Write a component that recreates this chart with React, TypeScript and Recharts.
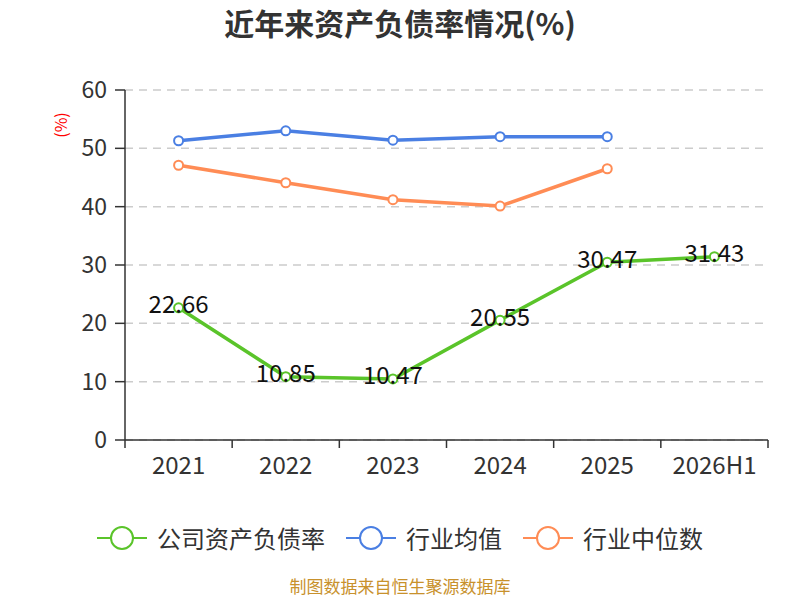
import { CartesianGrid, Line, LineChart, XAxis, YAxis, LabelList } from 'recharts'

const years = ['2021', '2022', '2023', '2024', '2025', '2026H1']
const companyRatio = [22.66, 10.85, 10.47, 20.55, 30.47, 31.43]
const industryAvg = [51.3, 53.0, 51.4, 52.0, 52.0, null]
const industryMedian = [47.1, 44.1, 41.2, 40.1, 46.5, null]
const yTicks = [0, 10, 20, 30, 40, 50, 60]

const data = years.map((year, i) => ({
  year,
  company: companyRatio[i],
  avg: industryAvg[i],
  median: industryMedian[i],
}))

const FONT = '"Noto Sans CJK SC", "Noto Sans", sans-serif'
const GREEN = '#5ac42a'
const BLUE = '#4a7fe3'
const ORANGE = '#ff8c55'

const PLOT_LEFT = 125
const PLOT_RIGHT = 768
const bandWidth = (PLOT_RIGHT - PLOT_LEFT) / years.length

function XTick(props: any) {
  const { x, y, payload, index } = props
  const left = x - bandWidth / 2
  return (
    <g>
      <line x1={left} x2={left} y1={y - 8} y2={y} stroke="#333" strokeWidth={1.5} />
      {index === years.length - 1 && (
        <line x1={x + bandWidth / 2} x2={x + bandWidth / 2} y1={y - 8} y2={y} stroke="#333" strokeWidth={1.5} />
      )}
      <text x={x} y={y + 26} textAnchor="middle" fill="#333" fontSize={24} fontFamily={FONT}>
        {payload.value}
      </text>
    </g>
  )
}

function ValueLabel(props: any) {
  const { x, y, value } = props
  return (
    <text x={x} y={y} dy={-1} textAnchor="middle" dominantBaseline="middle" fill="#111" fontSize={24} fontFamily={FONT}>
      {value}
    </text>
  )
}

const legendItems = [
  { name: '公司资产负债率', color: GREEN },
  { name: '行业均值', color: BLUE },
  { name: '行业中位数', color: ORANGE },
]

export default function App() {
  return (
    <div style={{ position: 'absolute', left: 0, top: 0, width: 800, height: 600, background: '#fff', fontFamily: FONT, overflow: 'hidden' }}>
      <div style={{ position: 'absolute', top: 7, width: 800, textAlign: 'center', fontSize: 30, lineHeight: '30px', fontWeight: 'bold', color: '#333' }}>
        近年来资产负债率情况(%)
      </div>
      <LineChart width={800} height={600} data={data} margin={{ top: 90, right: 800 - PLOT_RIGHT, left: 0, bottom: 120 }}>
        <CartesianGrid vertical={false} stroke="#ccc" strokeDasharray="8 6" strokeWidth={1.5} />
        <XAxis
          dataKey="year"
          scale="band"
          height={40}
          axisLine={{ stroke: '#333', strokeWidth: 1.5 }}
          tickLine={false}
          tick={<XTick />}
          interval={0}
        />
        <YAxis
          width={PLOT_LEFT}
          domain={[0, 60]}
          ticks={yTicks}
          interval={0}
          axisLine={{ stroke: '#333', strokeWidth: 1.5 }}
          tickLine={{ stroke: '#333', strokeWidth: 1.5 }}
          tickSize={10}
          tickMargin={8}
          tick={{ fill: '#333', fontSize: 23, fontFamily: FONT }}
          label={{
            content: () => (
              <text
                x={63}
                y={125}
                transform="rotate(-90 63 125)"
                textAnchor="middle"
                dominantBaseline="middle"
                fill="#f00"
                fontSize={16}
                fontFamily={FONT}
              >
                (%)
              </text>
            ),
          }}
        />
        <Line
          dataKey="avg"
          stroke={BLUE}
          strokeWidth={3.5}
          dot={{ r: 4.5, fill: '#fff', stroke: BLUE, strokeWidth: 2 }}
          isAnimationActive={false}
        />
        <Line
          dataKey="median"
          stroke={ORANGE}
          strokeWidth={3.5}
          dot={{ r: 4.5, fill: '#fff', stroke: ORANGE, strokeWidth: 2 }}
          isAnimationActive={false}
        />
        <Line
          dataKey="company"
          stroke={GREEN}
          strokeWidth={3.5}
          dot={{ r: 4.5, fill: '#fff', stroke: GREEN, strokeWidth: 2 }}
          isAnimationActive={false}
        >
          <LabelList dataKey="company" content={<ValueLabel />} />
        </Line>
      </LineChart>
      <div style={{ position: 'absolute', top: 520, left: 0, width: 800, display: 'flex', justifyContent: 'center', gap: 21 }}>
        {legendItems.map((item) => (
          <div key={item.name} style={{ display: 'flex', alignItems: 'center' }}>
            <svg width={50} height={34}>
              <line x1={0} x2={50} y1={17} y2={17} stroke={item.color} strokeWidth={2} />
              <circle cx={25} cy={17} r={11} fill="#fff" stroke={item.color} strokeWidth={2} />
            </svg>
            <span style={{ marginLeft: 10, fontSize: 24, color: '#333' }}>{item.name}</span>
          </div>
        ))}
      </div>
      <div style={{ position: 'absolute', top: 577, width: 800, textAlign: 'center', fontSize: 17, lineHeight: '17px', color: '#c8912c' }}>
        制图数据来自恒生聚源数据库
      </div>
    </div>
  )
}
